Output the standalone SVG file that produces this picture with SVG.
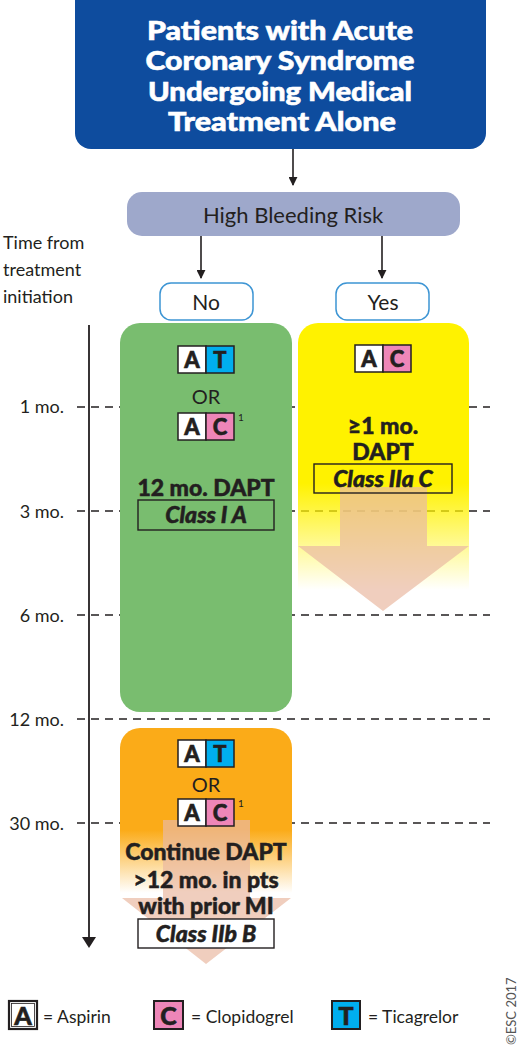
<svg xmlns="http://www.w3.org/2000/svg" width="520" height="1047" viewBox="0 0 520 1047">
<style>
text{font-family:Lato,"Open Sans","Liberation Sans",sans-serif;fill:#231f20}
.hdr{font-size:27px;font-weight:900;fill:#fff;stroke:#fff;stroke-width:0.6;text-anchor:middle}
.lbl{font-size:17.5px}
.tick{font-size:18px;text-anchor:end}
.c{text-anchor:middle}
.dash{stroke:#231f20;stroke-width:1.3;stroke-dasharray:8 6;fill:none}
.cls{fill:none;stroke:#231f20;stroke-width:1.4}
.cell{stroke:#231f20;stroke-width:1.5}
.bl{font-size:22px;font-weight:900;text-anchor:middle;stroke:#231f20;stroke-width:0.6}
.ital{font-style:italic;font-weight:900;font-size:23px;text-anchor:middle;stroke:#231f20;stroke-width:0.5}
.big{font-size:23px;font-weight:900;text-anchor:middle;stroke:#231f20;stroke-width:0.5}
.ans{fill:#fff;stroke:#3d95d4;stroke-width:1.5}
.conn{stroke:#231f20;stroke-width:1.6;fill:none;marker-end:url(#ah)}
.pale{fill:#eab9a2;opacity:0.7}
</style>
<defs>
<marker id="ah" viewBox="0 0 10 10" refX="9" refY="5" markerWidth="9" markerHeight="9" markerUnits="userSpaceOnUse" orient="auto"><path d="M0,0 L10,5 L0,10 z" fill="#231f20"/></marker>
<linearGradient id="gy" x1="0" y1="323" x2="0" y2="590" gradientUnits="userSpaceOnUse">
<stop offset="0" stop-color="#fff200"/><stop offset="0.6" stop-color="#fff200"/><stop offset="1" stop-color="#fff200" stop-opacity="0"/>
</linearGradient>
<linearGradient id="go" x1="0" y1="728" x2="0" y2="898" gradientUnits="userSpaceOnUse">
<stop offset="0" stop-color="#fbab18"/><stop offset="0.6" stop-color="#fbab18"/><stop offset="0.97" stop-color="#fbab18" stop-opacity="0"/>
</linearGradient>
<g id="badgeAT">
<rect x="0" y="0" width="28" height="27" fill="#fff" class="cell"/>
<rect x="28" y="0" width="28" height="27" fill="#00aeef" class="cell"/>
<text x="14" y="22" class="bl">A</text><text x="42" y="22" class="bl">T</text>
</g>
<g id="badgeAC">
<rect x="0" y="0" width="28" height="27" fill="#fff" class="cell"/>
<rect x="28" y="0" width="28" height="27" fill="#ee86b8" class="cell"/>
<text x="14" y="22" class="bl">A</text><text x="42" y="22" class="bl">C</text>
</g>
</defs>
<rect width="520" height="1047" fill="#fff"/>

<g id="timeline">
<line x1="89" y1="325" x2="89" y2="938" stroke="#231f20" stroke-width="1.8"/>
<path d="M82,937 L96,937 L89,948 z" fill="#231f20"/>
<line class="dash" x1="77" y1="407" x2="490" y2="407"/>
<line class="dash" x1="77" y1="511" x2="490" y2="511"/>
<line class="dash" x1="77" y1="615" x2="490" y2="615"/>
<line class="dash" x1="77" y1="719" x2="490" y2="719"/>
<line class="dash" x1="77" y1="823" x2="490" y2="823"/>
<text class="tick" x="64" y="413">1 mo.</text>
<text class="tick" x="64" y="518">3 mo.</text>
<text class="tick" x="64" y="622">6 mo.</text>
<text class="tick" x="64" y="726">12 mo.</text>
<text class="tick" x="64" y="830">30 mo.</text>
<text class="lbl" x="3" y="249" style="font-size:18px">Time from</text>
<text class="lbl" x="3" y="276" style="font-size:18px">treatment</text>
<text class="lbl" x="3" y="303" style="font-size:18px">initiation</text>
</g>

<g id="header">
<rect x="75" y="-15" width="411" height="164" rx="16" fill="#0e4c9e"/>
<text class="hdr" x="280" y="40" textLength="266" lengthAdjust="spacingAndGlyphs">Patients with Acute</text>
<text class="hdr" x="280" y="70" textLength="269" lengthAdjust="spacingAndGlyphs">Coronary Syndrome</text>
<text class="hdr" x="280" y="101" textLength="264" lengthAdjust="spacingAndGlyphs">Undergoing Medical</text>
<text class="hdr" x="282" y="131" textLength="228" lengthAdjust="spacingAndGlyphs">Treatment Alone</text>
</g>

<g id="hbr">
<rect x="127" y="192" width="333" height="44" rx="15" fill="#9ea8cb"/>
<text x="293" y="223" class="c" style="font-size:22px">High Bleeding Risk</text>
</g>

<g id="no">
<rect class="ans" x="160" y="283" width="93" height="37" rx="11"/>
<text x="206" y="310" class="c" style="font-size:21px">No</text>
</g>
<g id="yes">
<rect class="ans" x="336" y="283" width="93" height="37" rx="11"/>
<text x="383" y="310" class="c" style="font-size:21px">Yes</text>
</g>

<g id="green">
<rect x="120" y="323" width="172" height="389" rx="20" fill="#79bd6f"/>
<use href="#badgeAT" x="178" y="346"/>
<text x="206" y="404" class="c" style="font-size:20px">OR</text>
<use href="#badgeAC" x="178" y="413"/>
<text x="238" y="421" style="font-size:10px">1</text>
<text x="206" y="496" class="big">12 mo. DAPT</text>
<rect class="cls" x="138" y="500" width="136" height="30"/>
<text x="206" y="523" class="ital">Class I A</text>
</g>

<g id="yellow">
<path d="M318,323 H449 A20,20 0 0 1 469,343 V590 H298 V343 A20,20 0 0 1 318,323 z" fill="url(#gy)"/>
<path class="pale" d="M340,487 H427 V546 H469 L383,611 L298,546 H340 z"/>
<use href="#badgeAC" x="355" y="345"/>
<text x="383" y="434" class="big">≥1 mo.</text>
<text x="383" y="460" class="big">DAPT</text>
<rect class="cls" x="314" y="464" width="138" height="29"/>
<text x="383" y="487" class="ital">Class IIa C</text>
</g>

<g id="orange">
<path d="M140,728 H272 A20,20 0 0 1 292,748 V898 H120 V748 A20,20 0 0 1 140,728 z" fill="url(#go)"/>
<path class="pale" d="M163,820 H250 V898 H291 L206,964 L122,898 H163 z"/>
<use href="#badgeAT" x="178" y="740"/>
<text x="206" y="792" class="c" style="font-size:20px">OR</text>
<use href="#badgeAC" x="178" y="799"/>
<text x="238" y="807" style="font-size:10px">1</text>
<text x="206" y="860" class="big">Continue DAPT</text>
<text x="206" y="888" class="big">&gt;12 mo. in pts</text>
<text x="206" y="914" class="big">with prior MI</text>
<rect x="138" y="919" width="136" height="29" fill="#fff" stroke="#231f20" stroke-width="1.4"/>
<text x="206" y="942" class="ital">Class IIb B</text>
</g>

<g id="connectors">
<line class="conn" x1="293" y1="149" x2="293" y2="185"/>
<line class="conn" x1="201" y1="236" x2="201" y2="278"/>
<line class="conn" x1="382" y1="236" x2="382" y2="278"/>
</g>

<g id="legend">
<rect x="9" y="1001" width="28" height="28" fill="#fff" stroke="#231f20" stroke-width="2.2"/>
<rect x="11.5" y="1003.5" width="23" height="23" fill="none" stroke="#231f20" stroke-width="0.8"/>
<text x="23" y="1025" class="bl" style="font-size:25px">A</text>
<text x="43" y="1023" class="lbl">= Aspirin</text>
<rect x="154" y="1001" width="29" height="28" fill="#ee86b8" stroke="#231f20" stroke-width="2"/>
<text x="168.5" y="1025" class="bl" style="font-size:25px">C</text>
<text x="191" y="1023" class="lbl">= Clopidogrel</text>
<rect x="332" y="1001" width="28" height="28" fill="#00aeef" stroke="#231f20" stroke-width="2"/>
<text x="346" y="1025" class="bl" style="font-size:25px">T</text>
<text x="368" y="1023" class="lbl">= Ticagrelor</text>
<text x="0" y="0" transform="translate(516,1045) rotate(-90)" style="font-size:13px;fill:#555">©ESC 2017</text>
</g>
</svg>
